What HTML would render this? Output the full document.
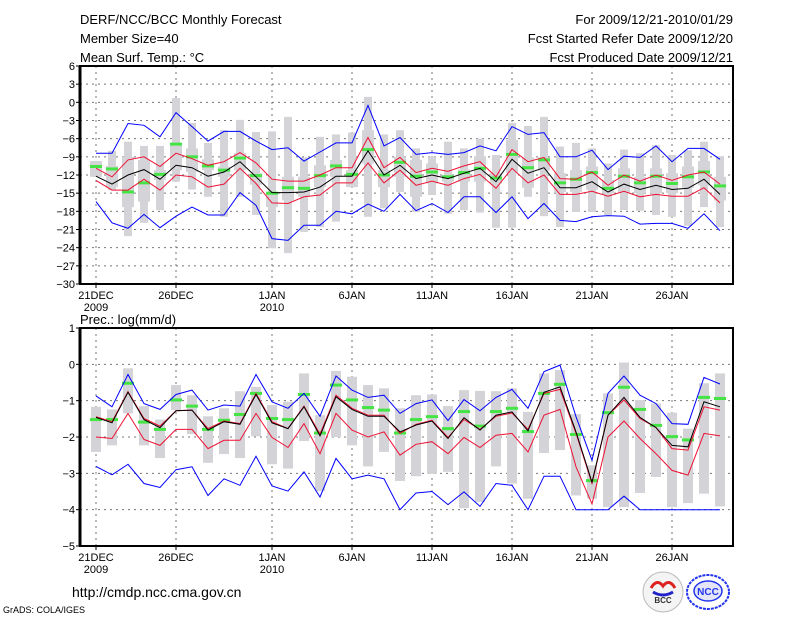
<!DOCTYPE html>
<html><head><meta charset="utf-8"><style>
body{margin:0;background:#fff;width:800px;height:618px;overflow:hidden}
svg{display:block;font-family:"Liberation Sans",sans-serif}
</style></head><body>
<svg id="chart" width="800" height="618" viewBox="0 0 800 618" xmlns="http://www.w3.org/2000/svg">
<g font-size="13" fill="#000">
<text x="80" y="24">DERF/NCC/BCC Monthly Forecast</text>
<text x="80" y="43">Member Size=40</text>
<text x="80" y="62">Mean Surf. Temp.: °C</text>
<text x="733" y="24" text-anchor="end">For 2009/12/21-2010/01/29</text>
<text x="733" y="43" text-anchor="end">Fcst Started Refer Date 2009/12/20</text>
<text x="733" y="62" text-anchor="end">Fcst Produced Date 2009/12/21</text>
<text x="80" y="324">Prec.: log(mm/d)</text>
<text x="72" y="597" font-size="14">http://cmdp.ncc.cma.gov.cn</text>
<text x="3" y="613" font-size="9">GrADS: COLA/IGES</text>
</g>
<g>
<circle cx="663" cy="592" r="20" fill="#f4f4f4" stroke="#bbb"/>
<path d="M651 588 q6 -10 12 -2 q6 -8 12 2" fill="none" stroke="#d22" stroke-width="3"/>
<path d="M653 592 q10 6 20 0" fill="none" stroke="#22c" stroke-width="3"/>
<text x="663" y="603" font-size="8" font-weight="bold" text-anchor="middle" fill="#333">BCC</text>
</g>
<g>
<ellipse cx="708" cy="592" rx="21" ry="17" fill="none" stroke="#2233ee" stroke-width="2" stroke-dasharray="3,1"/>
<ellipse cx="708" cy="591" rx="14" ry="10" fill="#e4e6f8" stroke="#2233ee" stroke-width="1.5"/>
<text x="708" y="595" font-size="10" font-weight="bold" text-anchor="middle" fill="#2233ee">NCC</text>
</g>
<g id="top"></g>
<g id="bot"></g>
</svg>
<script>
// ---- temperature data (days 0..39 from 21 DEC 2009) ----
const days = Array.from({length:40},(_, i)=>i);
const dateTicks = [0,5,11,16,21,26,31,36];
const dateLabels = ["21DEC","26DEC","1JAN","6JAN","11JAN","16JAN","21JAN","26JAN"];
const yearLabels = ["2009","","2010","","","","",""];
const tTicks = [6,3,0,-3,-6,-9,-12,-15,-18,-21,-24,-27,-30];
const tMean = [-12.2,-13.5,-12,-11.1,-12.7,-10.4,-10.8,-12.2,-11.5,-9.8,-12.3,-14.9,-14.9,-14.8,-14,-12.2,-12.2,-8,-12,-10.4,-12.6,-12,-12.6,-11.7,-10.9,-13.1,-9.4,-11.7,-10.8,-14.1,-14.1,-13.1,-14.8,-13.5,-14.4,-13.7,-14.4,-14.2,-12.7,-15.2];
const tRedHi = [-10.9,-12.3,-9.5,-9,-10.6,-8.4,-9.3,-10.4,-9.8,-8.3,-10,-12.7,-13,-13,-12,-10.8,-10.8,-5.8,-10.8,-9.1,-11.6,-10.9,-11.4,-10.5,-9.8,-12.3,-7.8,-9.8,-9.1,-12.6,-12.7,-11.5,-13.7,-12,-13,-12,-12.9,-12,-11.5,-13.5];
const tRedLo = [-12.9,-14.5,-14.5,-12.7,-14.5,-12,-12.3,-14,-13.5,-10.9,-13.4,-16.6,-16.7,-15.6,-15.3,-13.3,-13.3,-10,-13.3,-11.2,-13.7,-13,-13.7,-12.6,-11.9,-14.2,-10.9,-13.3,-12,-15.2,-15.2,-14.7,-15.5,-14.7,-15.6,-15.2,-15.5,-15.5,-14.1,-16.6];
const tBlueHi = [-8.4,-8.4,-3.5,-3.8,-5.7,-1.7,-4,-6.4,-4.8,-4.8,-6.4,-7.8,-7.5,-9.7,-8.2,-6.7,-6.7,-0.5,-7.2,-5.8,-8.6,-8.3,-8.6,-8.3,-7.2,-8,-4,-5.3,-5,-9,-9,-7.9,-11.1,-8.9,-9.1,-7.2,-9.8,-7.6,-7.6,-9.4];
const tBlueLo = [-16.4,-19.9,-20.8,-18.5,-20.7,-18.8,-17.3,-18.6,-18.6,-14.9,-17,-22.5,-22.8,-20.3,-20.3,-18,-18.4,-16.8,-18,-15.2,-17.9,-16.7,-18.2,-15.6,-15.6,-18.2,-15.6,-19.2,-16.7,-19.5,-19.7,-18.9,-18.7,-18.8,-20.1,-20,-20,-20.8,-18.4,-21.2];
const tObs = [-10.6,-11,-14.8,-13.3,-11.9,-6.9,-9,-10.5,-11.2,-9.2,-12.1,-15,-14.1,-14.2,-12.1,-10.5,-11.9,-7.8,-12,-9.9,-12.2,-11.5,-12.3,-11.6,-10.9,-12.5,-8.6,-10.8,-9.5,-13.3,-12.7,-11.6,-14.2,-12.2,-13.3,-12.2,-13.4,-12.3,-11.5,-13.8];
const tMax = [-9.7,-8,-6.5,-7.2,-7.2,0.7,-3.4,-6.7,-4.6,-2.9,-4.9,-4.8,-2.4,-9.1,-5.7,-5.3,-5,0.9,-5.3,-4.6,-7.6,-9,-6.5,-7.6,-6,-8.7,-3.4,-3.9,-2.4,-7.3,-6.7,-7.6,-10.1,-7.8,-8.4,-7.1,-8.7,-7.9,-6.5,-8.9];
const tMin = [-12.3,-14.5,-22.1,-19.9,-17.8,-13.1,-14.4,-15.6,-18.9,-15.6,-18.6,-24.1,-24.9,-21.4,-20.6,-19.7,-14,-18.9,-17.5,-14.8,-18.1,-15.3,-18.4,-17.8,-18.2,-20.7,-20.7,-15.6,-18.8,-20.6,-18.1,-18.1,-18.6,-17.8,-17.9,-18.6,-18.9,-20.4,-17.3,-20.6];
const tQ3 = [-9.7,-10.5,-9,-9.5,-11.2,-6.8,-7.6,-9.4,-10.6,-8.4,-11.7,-14.8,-12.3,-12.3,-10.4,-9.5,-11.2,-4.6,-11.2,-9,-9.5,-10.1,-12,-11.1,-8.9,-11.7,-6.2,-9.1,-9.1,-11.7,-11.2,-10.6,-12.8,-10.9,-12.3,-10.9,-11.7,-10.6,-9.7,-12.3];
const tQ1 = [-12.3,-14,-17.3,-16.4,-12.8,-11.2,-11.5,-11.2,-12.3,-11.2,-13.6,-17.3,-16.2,-15.6,-14,-12.3,-14,-10.1,-14,-12.3,-15.6,-13.4,-13.1,-13.1,-13.1,-13.4,-11.7,-14.1,-11.3,-14.8,-14.8,-14.4,-15,-15,-15,-15,-15,-14.1,-13.7,-16.2];
// ---- precipitation data ----
const pTicks = [1,0,-1,-2,-3,-4,-5];
const pMean = [-1.46,-1.61,-0.77,-1.52,-1.74,-1.28,-1.26,-1.81,-1.58,-1.65,-0.83,-1.61,-1.77,-1.17,-1.97,-0.89,-1.24,-1.43,-1.43,-1.86,-1.67,-1.56,-2.04,-1.47,-1.81,-1.4,-1.31,-1.83,-0.77,-0.62,-1.86,-3.24,-1.4,-0.91,-1.46,-1.74,-2.23,-2.27,-1.03,-1.17];
const pRedHi = [-1.44,-1.58,-0.75,-1.49,-1.7,-1.28,-1.26,-1.77,-1.56,-1.63,-0.8,-1.58,-1.77,-1.15,-1.92,-0.85,-1.21,-1.4,-1.4,-1.9,-1.65,-1.54,-2.01,-1.52,-1.79,-1.43,-1.34,-1.79,-0.8,-0.69,-1.9,-3.28,-1.4,-0.98,-1.49,-1.74,-2.32,-2.36,-1.17,-1.26];
const pRedLo = [-2.0,-2.04,-1.35,-2.07,-2.23,-1.79,-1.79,-2.32,-2.09,-2.09,-1.35,-2.01,-2.29,-1.63,-2.46,-1.35,-1.81,-2.0,-1.86,-2.5,-2.2,-2.13,-2.46,-2.01,-2.29,-1.95,-1.9,-2.41,-1.4,-1.24,-2.82,-3.84,-2.0,-1.56,-2.04,-2.46,-2.92,-3.05,-1.9,-1.97];
const pBlueHi = [-0.87,-1.17,-0.28,-1.08,-1.24,-0.83,-0.71,-1.26,-1.12,-1.15,-0.28,-1.03,-1.21,-0.8,-1.43,-0.32,-0.71,-0.91,-0.85,-1.35,-1.08,-0.98,-1.55,-0.97,-1.28,-0.91,-0.69,-1.21,-0.2,-0.02,-1.44,-2.64,-0.8,-0.32,-0.85,-1.08,-1.63,-1.65,-0.36,-0.54];
const pBlueLo = [-2.81,-3.04,-2.75,-3.28,-3.39,-2.9,-2.82,-3.61,-3.15,-3.33,-2.53,-3.35,-3.49,-2.96,-3.65,-2.59,-3.15,-3.05,-3.15,-4,-3.54,-3.5,-3.86,-3.51,-3.91,-3.28,-3.33,-4,-3.08,-3.08,-4,-4,-4,-3.63,-4,-4,-4,-4,-4,-4];
const pObs = [-1.52,-1.52,-0.52,-1.59,-1.79,-0.98,-1.15,-1.79,-1.54,-1.38,-0.8,-1.49,-1.52,-0.83,-1.89,-0.57,-0.98,-1.19,-1.26,-1.89,-1.52,-1.44,-1.77,-1.3,-1.7,-1.3,-1.21,-1.85,-0.8,-0.55,-1.93,-3.2,-1.33,-0.63,-1.24,-1.68,-1.99,-2.08,-0.91,-0.94];
const pMax = [-1.17,-1.24,-0.11,-1.15,-1.52,-0.57,-0.85,-1.43,-1.21,-0.74,-0.62,-1.12,-1.03,-0.25,-1.4,-0.18,-0.34,-0.57,-0.66,-1.21,-0.85,-0.83,-1.15,-0.71,-0.73,-0.74,-0.66,-1.31,-0.25,-0.16,-1.37,-2.78,-0.8,0.05,-0.98,-1.08,-1.33,-1.77,-0.52,-0.25];
const pMin = [-2.41,-2.23,-1.35,-2.23,-2.58,-1.26,-1.92,-2.71,-2.47,-2.58,-1.98,-2.75,-2.87,-2.11,-3.49,-2.0,-2.23,-2.81,-2.41,-3.21,-3.08,-3.01,-2.96,-3.96,-3.79,-2.81,-3.28,-3.7,-2.44,-2.36,-3.61,-3.7,-3.93,-3.93,-3.54,-3.1,-3.93,-3.82,-3.56,-3.91];

const NS="http://www.w3.org/2000/svg";
const X0=80, X1=733;
function xS(i){return 96+16*i;}
function mk(parent,tag,attrs){const e=document.createElementNS(NS,tag);for(const k in attrs)e.setAttribute(k,attrs[k]);parent.appendChild(e);return e;}

function panel(g, top, bot, vmax, vmin, ticks, S, thin){
  const yS=v=>top+(vmax-v)/(vmax-vmin)*(bot-top);
  ticks.forEach(t=>{
    if(t===vmax||t===vmin) return;
    const l=mk(g,'line',{x1:X0,x2:X1,y1:yS(t),y2:yS(t),stroke:'#777','stroke-dasharray':'2,4','stroke-width':1});
    
    
  });
  dateTicks.forEach(d=>{
    const l=mk(g,'line',{x1:xS(d),x2:xS(d),y1:top,y2:bot,stroke:'#777','stroke-dasharray':'2,4','stroke-width':1});
    
    
  });
  days.forEach(i=>{
    if(thin){
      const r=mk(g,'rect',{x:xS(i)-4,width:8,y:yS(S.max[i]),height:yS(S.min[i])-yS(S.max[i]),fill:'#d4d4d8'});
      
      
      const b=mk(g,'rect',{x:xS(i)-6,width:12,y:yS(S.q3[i]),height:yS(S.q1[i])-yS(S.q3[i]),fill:'#d4d4d8'});
      
      
    } else {
      const r=mk(g,'rect',{x:xS(i)-5,width:10,y:yS(S.max[i]),height:yS(S.min[i])-yS(S.max[i]),fill:'#d4d4d8'});
      
      
    }
  });
  days.forEach(i=>{
    const r=mk(g,'rect',{x:xS(i)-6,width:12,y:yS(S.obs[i])-1.5,height:3,fill:'#44e444'});
    
    
  });
  const line=(arr,col,name)=>{
    const p=mk(g,'polyline',{points:arr.map((v,i)=>xS(i)+','+yS(v).toFixed(1)).join(' '),fill:'none',stroke:col,'stroke-width':1});
    
    
  };
  line(S.bhi,'#0000ff','blue-upper-line');
  line(S.blo,'#0000ff','blue-lower-line');
  line(S.rhi,'#ee1133','red-upper-line');
  line(S.rlo,'#ee1133','red-lower-line');
  line(S.mean,'#000','ensemble-mean-line');
  const f=mk(g,'rect',{x:X0,y:top,width:X1-X0,height:bot-top,fill:'none',stroke:'#000','stroke-width':2});
  
  
  const la=mk(g,'line',{x1:X0,x2:X0,y1:top,y2:bot,stroke:'#000','stroke-width':3});
  
  
  ticks.forEach(t=>{
    mk(g,'line',{x1:X0-4,x2:X0,y1:yS(t),y2:yS(t),stroke:'#000'});
    const tx=mk(g,'text',{x:X0-5,y:yS(t)+4,'font-size':11,'text-anchor':'end'});
    tx.textContent=t<0?'\u2212'+(-t):String(t);
    
    
  });
  dateTicks.forEach((d,k)=>{
    mk(g,'line',{x1:xS(d),x2:xS(d),y1:bot,y2:bot+4,stroke:'#000'});
    const tx=mk(g,'text',{x:xS(d),y:bot+15,'font-size':11,'text-anchor':'middle'});
    tx.textContent=dateLabels[k];
    
    
    if(yearLabels[k]){
      const ty=mk(g,'text',{x:xS(d),y:bot+27,'font-size':11,'text-anchor':'middle'});
      ty.textContent=yearLabels[k];
      
      
    }
  });
}
const gt=document.getElementById('top');


panel(gt,66,284,6,-30,tTicks,{max:tMax,min:tMin,q3:tQ3,q1:tQ1,obs:tObs,bhi:tBlueHi,blo:tBlueLo,rhi:tRedHi,rlo:tRedLo,mean:tMean},true);
const gb=document.getElementById('bot');


panel(gb,328,546,1,-5,pTicks,{max:pMax,min:pMin,obs:pObs,bhi:pBlueHi,blo:pBlueLo,rhi:pRedHi,rlo:pRedLo,mean:pMean},false);
</script>
</body></html>
